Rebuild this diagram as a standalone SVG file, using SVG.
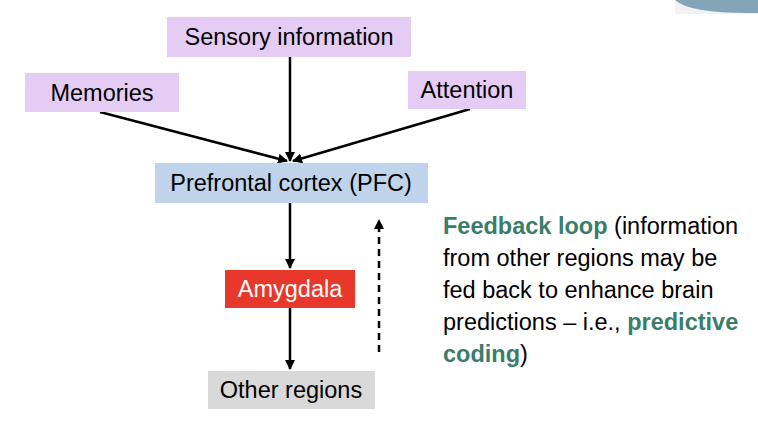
<svg xmlns="http://www.w3.org/2000/svg" width="758" height="442" viewBox="0 0 758 442">
<style>
text{font-family:"Liberation Sans",Arial,sans-serif;font-size:23.5px;fill:#000}
.p{fill:#E5CCF5}
.c{text-anchor:middle}
.g{fill:#3A7D6B;font-weight:bold}
.n{font-size:23.5px}
.l{stroke:#000;stroke-width:2.5;fill:none}
</style>
<defs><marker id="a" viewBox="0 0 10 10" refX="9" refY="5" markerWidth="4" markerHeight="4" orient="auto"><path d="M0,0L10,5L0,10z" fill="#000"/></marker></defs>
<rect x="675" y="0" width="83" height="14" fill="#F2F2F2"/>
<path d="M675,0 Q690,14 758,13 L758,0z" fill="#84A5B8"/>
<g id="connectors">
<line class="l" x1="290" y1="57" x2="290" y2="161" marker-end="url(#a)"/>
<line class="l" x1="100" y1="112" x2="287" y2="161" marker-end="url(#a)"/>
<line class="l" x1="470" y1="109" x2="293" y2="161" marker-end="url(#a)"/>
<line class="l" x1="290" y1="203" x2="290" y2="268" marker-end="url(#a)"/>
<line class="l" x1="290" y1="308" x2="290" y2="369" marker-end="url(#a)"/>
<line class="l" x1="379" y1="352" x2="379" y2="220" stroke-dasharray="7,5" marker-end="url(#a)"/>
</g>
<g id="sensory"><rect class="p" x="167" y="17" width="244" height="40"/><text class="c" x="289" y="45">Sensory information</text></g>
<g id="memories"><rect class="p" x="25" y="73" width="154" height="39"/><text class="c" x="102" y="101">Memories</text></g>
<g id="attention"><rect class="p" x="408" y="71" width="118" height="38"/><text class="c" x="467" y="98">Attention</text></g>
<g id="pfc"><rect fill="#BFD4EA" x="155" y="163" width="273" height="40"/><text class="c" x="291" y="191">Prefrontal cortex (PFC)</text></g>
<g id="amygdala"><rect fill="#E8382B" x="225" y="270" width="130" height="38"/><text class="c" x="290" y="297" style="fill:#fff">Amygdala</text></g>
<g id="other"><rect fill="#D9D9D9" x="208" y="371" width="167" height="38"/><text class="c" x="291" y="398">Other regions</text></g>
<g id="note" class="n">
<text x="443" y="234"><tspan class="g">Feedback loop</tspan> (information</text>
<text x="443" y="266">from other regions may be</text>
<text x="443" y="298">fed back to enhance brain</text>
<text x="443" y="330">predictions – i.e., <tspan class="g">predictive</tspan></text>
<text x="443" y="362"><tspan class="g">coding</tspan>)</text>
</g>
</svg>
